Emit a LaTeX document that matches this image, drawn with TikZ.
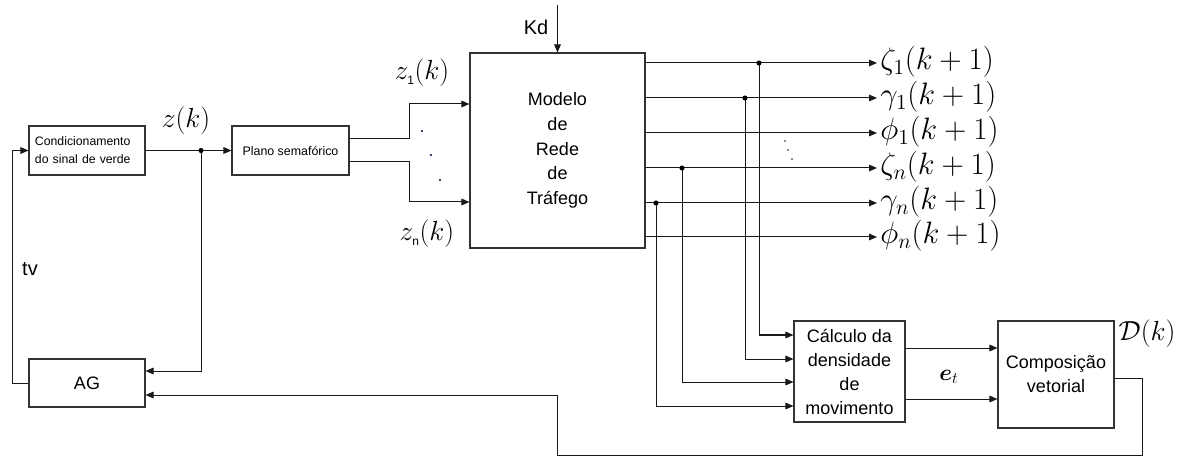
\documentclass[tikz,border=0pt]{standalone}
\usepackage{bm}
\usepackage{fontspec}
\setmainfont{Liberation Sans}
\usetikzlibrary{arrows.meta,shadows}
\tikzset{
  blk/.style={draw=black!80, line width=0.8pt, fill=white, inner sep=0pt,
    drop shadow={shadow xshift=1.1pt, shadow yshift=-1.1pt, opacity=0.3, fill=black!70}},
  wire/.style={line width=0.75pt, draw=black!90},
  arr/.style={wire, -{Triangle[length=6pt,width=5pt]}},
  jdot/.style={circle, fill=black, inner sep=0pt, minimum size=3.8pt},
  sdot/.style={circle, fill=black!75!blue, inner sep=0pt, minimum size=1.8pt},
  tdot/.style={circle, fill=black!50!violet, inner sep=0pt, minimum size=1.2pt},
  mlab/.style={inner sep=0pt, font=\fontsize{20}{24}\selectfont},
  olab/.style={inner sep=0pt, anchor=west, scale=1.12, font=\fontsize{20}{24}\selectfont},
  tlab/.style={inner sep=0pt, font=\fontsize{15}{18}\selectfont},
}
\begin{document}
\begin{tikzpicture}[x=0.75pt,y=-0.75pt]
\useasboundingbox (0,0) rectangle (1190,456);

% blocks
\node[blk, minimum width=87pt, minimum height=36.75pt, text width=78pt, align=left,
  font=\fontsize{9.2}{13.5}\selectfont] (cond) at (87,150.5) {Condicionamento\\do sinal de verde};
\node[blk, minimum width=87.75pt, minimum height=36.75pt,
  font=\fontsize{9.3}{11}\selectfont] (plano) at (290.5,150.5) {Plano semafórico};
\node[blk, minimum width=131.25pt, minimum height=146.25pt, align=center,
  font=\fontsize{13.5}{18.6}\selectfont] (modelo) at (557.5,150.5) {Modelo\\de\\Rede\\de\\Tráfego};
\node[blk, minimum width=87pt, minimum height=36pt,
  font=\fontsize{13.5}{16}\selectfont] (ag) at (87,383) {AG};
\node[blk, minimum width=83.25pt, minimum height=75.75pt, align=center,
  font=\fontsize{13.5}{18}\selectfont] (calc) at (849.5,371.5) {Cálculo da\\densidade\\de\\movimento};
\node[blk, minimum width=87pt, minimum height=80.25pt, align=center,
  font=\fontsize{13.5}{18}\selectfont] (comp) at (1056,374.5) {Composição\\vetorial};

% coordinates
\coordinate (j1) at (201,150.5);
\coordinate (kdtop) at (557.5,5);
\coordinate (pb1) at (409,139);
\coordinate (pb2) at (409,162);
\foreach \i/\y in {1/63,2/98,3/133,4/168,5/203,6/237}{
  \coordinate (o\i) at (877,\y);
}
\coordinate (d1) at (759,63);
\coordinate (d2) at (745,98);
\coordinate (d4) at (682,168);
\coordinate (d5) at (656,203);
\coordinate (c1) at (1142,378);
\coordinate (c2) at (1142,455.5);
\coordinate (c3) at (557,455.5);
\coordinate (c4) at (557,395);
\coordinate (l1) at (12,383);

% left part
\draw[arr] (cond.east) -- (plano.west);
\draw[arr] (j1) |- (ag.east |- 0,371);
\draw[arr] (ag.west) -- (l1) |- (cond.west);
\node[jdot] at (j1) {};

\draw[arr] (plano.east |- pb1) -- (pb1) |- (modelo.west |- 0,104);
\draw[arr] (plano.east |- pb2) -- (pb2) |- (modelo.west |- 0,202);
\node[sdot] at (422,131) {};
\node[sdot] at (431,155) {};
\node[sdot] at (440,180) {};

\draw[arr] (kdtop) -- (modelo.north);

% outputs
\foreach \i in {1,...,6}{
  \draw[arr] (modelo.east |- o\i) -- (o\i);
}
\node[tdot] at (785,141) {};
\node[tdot] at (788,150) {};
\node[tdot] at (792,159) {};

\draw[arr] (d1) |- (calc.west |- 0,335);
\draw[arr] (d2) |- (calc.west |- 0,359);
\draw[arr] (d4) |- (calc.west |- 0,382);
\draw[arr] (d5) |- (calc.west |- 0,406);
\foreach \d in {d1,d2,d4,d5}{ \node[jdot] at (\d) {}; }

\draw[arr] (calc.east |- 0,348) -- (comp.west |- 0,348);
\draw[arr] (calc.east |- 0,399) -- (comp.west |- 0,399);

\draw[arr] (comp.east |- c1) -- (c1) -- (c2) -- (c3) -- (c4) -- (ag.east |- c4);

% labels
\node[mlab] (lz) at (186,121) {$z(k)$};
\node[mlab] (lz1) at (422,73) {$z_{\mbox{\fontsize{9}{10}\selectfont 1}}(k)$};
\node[mlab] (lzn) at (427,234) {$z_{\mbox{\fontsize{9}{10}\selectfont n}}(k)$};
\node[tlab] (lkd) at (536,27) {Kd};
\node[tlab] (ltv) at (30,269) {tv};
\node[olab] at (880,62) {$\zeta_1(k+1)$};
\node[olab] at (880,97) {$\gamma_1(k+1)$};
\node[olab] at (880,132) {$\phi_1(k+1)$};
\node[olab] at (880,167) {$\zeta_n(k+1)$};
\node[olab] at (880,202) {$\gamma_n(k+1)$};
\node[olab] at (880,236) {$\phi_n(k+1)$};
\node[inner sep=0pt, font=\fontsize{17}{20}\selectfont] (let) at (949,377) {$\bm{e}_t$};
\node[mlab] (ld) at (1147,334) {$\mathcal{D}(k)$};
\end{tikzpicture}
\end{document}
